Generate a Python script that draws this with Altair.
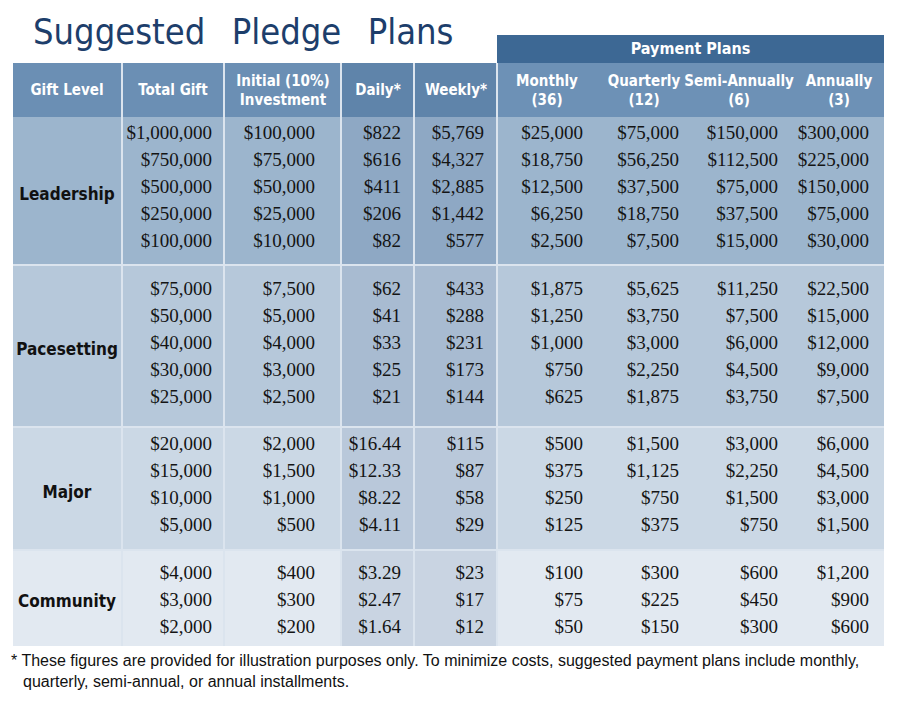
import altair as alt
import pandas as pd

# ---------------- data ----------------
levels = ["Leadership", "Pacesetting", "Major", "Community"]
total_gift = [[1000000, 750000, 500000, 250000, 100000],
              [75000, 50000, 40000, 30000, 25000],
              [20000, 15000, 10000, 5000],
              [4000, 3000, 2000]]
initial = [[100000, 75000, 50000, 25000, 10000],
           [7500, 5000, 4000, 3000, 2500],
           [2000, 1500, 1000, 500],
           [400, 300, 200]]
daily = [[822, 616, 411, 206, 82],
         [62, 41, 33, 25, 21],
         [16.44, 12.33, 8.22, 4.11],
         [3.29, 2.47, 1.64]]
weekly = [[5769, 4327, 2885, 1442, 577],
          [433, 288, 231, 173, 144],
          [115, 87, 58, 29],
          [23, 17, 12]]
monthly = [[25000, 18750, 12500, 6250, 2500],
           [1875, 1250, 1000, 750, 625],
           [500, 375, 250, 125],
           [100, 75, 50]]
quarterly = [[75000, 56250, 37500, 18750, 7500],
             [5625, 3750, 3000, 2250, 1875],
             [1500, 1125, 750, 375],
             [300, 225, 150]]
semi_annual = [[150000, 112500, 75000, 37500, 15000],
               [11250, 7500, 6000, 4500, 3750],
               [3000, 2250, 1500, 750],
               [600, 450, 300]]
annual = [[300000, 225000, 150000, 75000, 30000],
          [22500, 15000, 12000, 9000, 7500],
          [6000, 4500, 3000, 1500],
          [1200, 900, 600]]
headers = ["Gift Level", "Total Gift", "Initial (10%)\nInvestment", "Daily*", "Weekly*",
           "Monthly\n(36)", "Quarterly\n(12)", "Semi-Annually\n(6)", "Annually\n(3)"]
group_header = "Payment Plans"
title = "Suggested \u2002Pledge \u2002Plans"
footnote_lines = ["* These figures are provided for illustration purposes only. To minimize costs, suggested payment plans include monthly,",
                  "quarterly, semi-annual, or annual installments."]

# ---------------- layout ----------------
col_edges = [13, 122, 224, 341, 414, 497, 884]
header_cx = [67, 173, 283, 378, 456, 547, 644, 739, 839]
num_right = [212, 315, 401, 484, 583, 679, 778, 869]
band_edges = [117, 265, 427, 550, 646]
first_row = [16, 24, 17, 23]
row_step = 27
header_top, header_bot = 63, 117
header_lh = 19
pp_top = 35

band_fill = ["#9cb5cd", "#b6c8da", "#cbd8e5", "#e2e9f1"]
band_dw_fill = ["#8ea8c4", "#a8bbd1", "#b9c8da", "#c9d4e2"]
hdr_fill, hdr_dw_fill, hdr_pay_fill, pp_fill = "#6b8fb4", "#5f84aa", "#6d91b6", "#3d6894"
line_col = "#dbe4ee"
title_col = "#1d3e6b"

COND = "DejaVu Sans Condensed, DejaVu Sans, sans-serif"
SERIF = "Liberation Serif, DejaVu Serif, serif"
SANS = "Liberation Sans, Arial, sans-serif"

X = lambda f: alt.X(f, type="quantitative", scale=alt.Scale(domain=[8, 892], nice=False, zero=False), axis=None)
Y = lambda f: alt.Y(f, type="quantitative", scale=alt.Scale(domain=[8, 701], nice=False, zero=False, reverse=True), axis=None)


def money(v):
    if float(v) != int(v):
        return f"${v:,.2f}"
    return f"${int(v):,}"


# ---------------- rects ----------------
rects = []
rects.append(dict(x=col_edges[0], x2=col_edges[3], y=header_top, y2=header_bot, fill=hdr_fill))
rects.append(dict(x=col_edges[3], x2=col_edges[5], y=header_top, y2=header_bot, fill=hdr_dw_fill))
rects.append(dict(x=col_edges[5], x2=col_edges[6], y=header_top, y2=header_bot, fill=hdr_pay_fill))
rects.append(dict(x=col_edges[5], x2=col_edges[6], y=pp_top, y2=header_top, fill=pp_fill))
for i in range(len(levels)):
    rects.append(dict(x=col_edges[0], x2=col_edges[6], y=band_edges[i], y2=band_edges[i + 1], fill=band_fill[i]))
    rects.append(dict(x=col_edges[3], x2=col_edges[5], y=band_edges[i], y2=band_edges[i + 1], fill=band_dw_fill[i]))
rect_df = pd.DataFrame(rects)
rect_layer = alt.Chart(rect_df).mark_rect().encode(
    x=X("x"), x2="x2", y=Y("y"), y2="y2", color=alt.Color("fill:N", scale=None))

# ---------------- grid lines ----------------
vlines = pd.DataFrame([dict(x=e, y=header_top, y2=band_edges[-1]) for e in col_edges[1:6]])
vline_layer = alt.Chart(vlines).mark_rule(color=line_col, strokeWidth=2).encode(
    x=X("x"), y=Y("y"), y2="y2")
hlines = pd.DataFrame([dict(y=e, x=col_edges[0], x2=col_edges[6]) for e in band_edges[1:-1]])
hline_layer = alt.Chart(hlines).mark_rule(color=line_col, strokeWidth=2).encode(
    y=Y("y"), x=X("x"), x2="x2")

# ---------------- numbers ----------------
columns = [total_gift, initial, daily, weekly, monthly, quarterly, semi_annual, annual]
nums = []
for c, col in enumerate(columns):
    for i in range(len(levels)):
        for r, v in enumerate(col[i]):
            nums.append(dict(x=num_right[c], y=band_edges[i] + first_row[i] + r * row_step, t=money(v)))
num_layer = alt.Chart(pd.DataFrame(nums)).mark_text(
    align="right", baseline="middle", font=SERIF, fontSize=19, color="#141414").encode(
    x=X("x"), y=Y("y"), text="t:N")

# ---------------- level labels ----------------
lv = pd.DataFrame([dict(x=header_cx[0], y=(band_edges[i] + band_edges[i + 1]) / 2 + 4, t=levels[i])
                   for i in range(len(levels))])
lv_layer = alt.Chart(lv).mark_text(
    align="center", baseline="middle", font=COND, fontSize=17, fontWeight="bold", color="#111111").encode(
    x=X("x"), y=Y("y"), text="t:N")

# ---------------- headers ----------------
hd_rows = []
for i, h in enumerate(headers):
    n = h.count("\n") + 1
    hd_rows.append(dict(x=header_cx[i], y=(header_top + header_bot) / 2 - (n - 1) * header_lh / 2, t=h))
hd_layer = alt.Chart(pd.DataFrame(hd_rows)).mark_text(
    align="center", baseline="middle", font=COND, fontSize=15, fontWeight="bold", color="white",
    lineBreak="\n", lineHeight=header_lh).encode(x=X("x"), y=Y("y"), text="t:N")
pp = pd.DataFrame([dict(x=(col_edges[5] + col_edges[6]) / 2, y=(pp_top + header_top) / 2, t=group_header)])
pp_layer = alt.Chart(pp).mark_text(
    align="center", baseline="middle", font=COND, fontSize=16, fontWeight="bold", color="white").encode(
    x=X("x"), y=Y("y"), text="t:N")

# ---------------- title ----------------
tt = pd.DataFrame([dict(x=33, y=44, t=title)])
tt_layer = alt.Chart(tt).mark_text(
    align="left", baseline="alphabetic", font=COND, fontSize=36, color=title_col).encode(
    x=X("x"), y=Y("y"), text="t:N")

# ---------------- footnote ----------------
fn = pd.DataFrame([dict(x=11, y=661, t=footnote_lines[0]), dict(x=23, y=682, t=footnote_lines[1])])
fn_layer = alt.Chart(fn).mark_text(
    align="left", baseline="middle", font=SANS, fontSize=16, color="#111111").encode(
    x=X("x"), y=Y("y"), text="t:N")

chart = alt.layer(rect_layer, hline_layer, vline_layer, num_layer, lv_layer, hd_layer, pp_layer,
                  tt_layer, fn_layer).properties(
    width=884, height=693, padding=0, autosize="none", background="white"
).configure_view(stroke=None)

chart.save("out.html", embed_options={"renderer": "svg", "actions": False})
